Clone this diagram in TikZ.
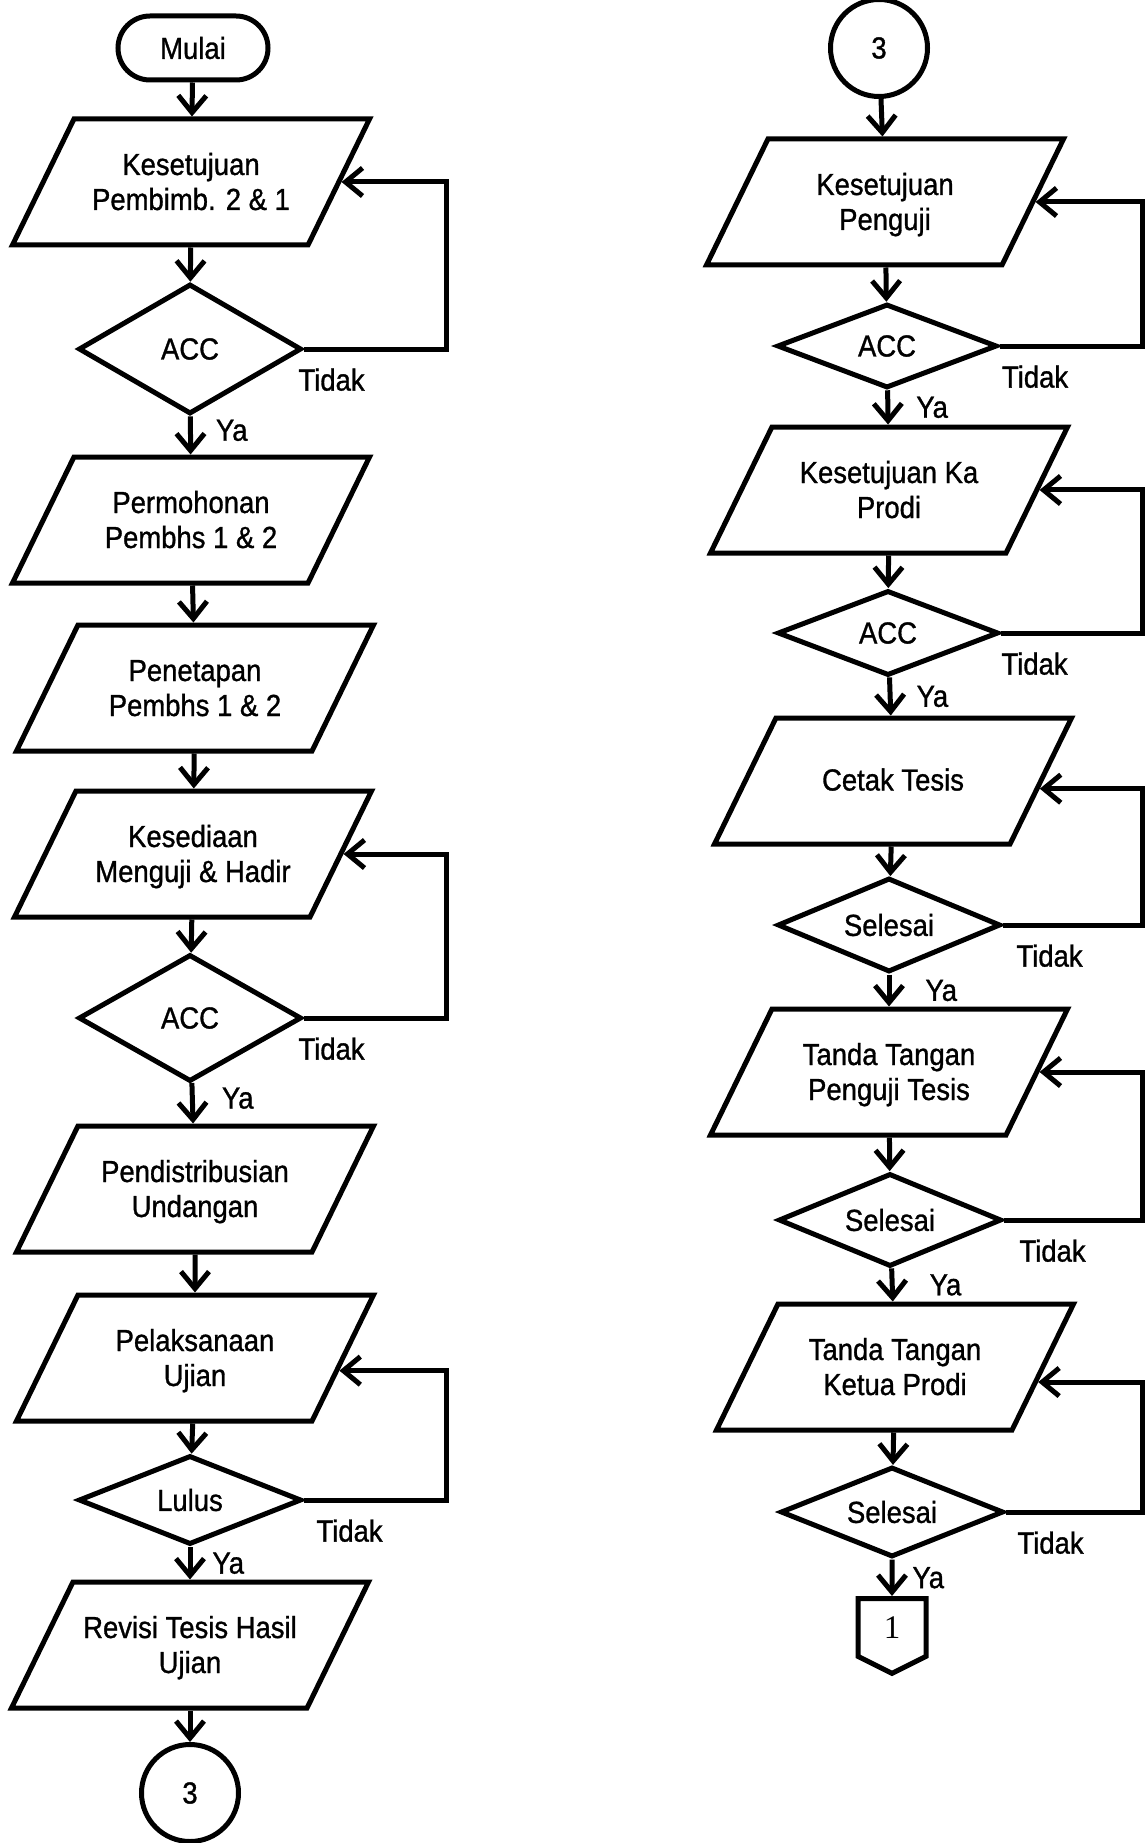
\documentclass[tikz,border=0pt]{standalone}
\usepackage{fontspec}
\setmainfont{Liberation Sans}[FakeStretch=0.9, FakeBold=1]
\newfontfamily\onefont{Liberation Serif}
\usetikzlibrary{shapes.geometric, shapes.misc, shapes.symbols, arrows.meta}
\tikzset{
    >={Straight Barb[length=17pt,width=28pt]}, % open arrow heads
    every node/.style={font=\fontsize{30.5}{35}\selectfont}, % text size of all nodes
    terminal/.style={draw, rounded rectangle, minimum width=150pt, minimum height=64pt, inner sep=0pt},
    io/.style={draw, trapezium, trapezium left angle=64, trapezium right angle=116,
        trapezium stretches body, minimum width=357pt, minimum height=126pt,
        text height=60pt, text depth=4pt, inner ysep=31pt, inner xsep=0pt,
        align=center}, % the slanted boxes
    decision/.style={draw, diamond, aspect=2.5, inner sep=0pt, minimum width=223pt, minimum height=#1},
    decision/.default=93pt,
    connector/.style={draw, circle, minimum size=97pt, inner sep=0pt},
    offpage/.style={draw, signal, signal to=south, signal pointer angle=127,
        minimum width=68pt, minimum height=62pt, inner sep=0pt,
        font=\onefont\fontsize{33}{36}\selectfont},
    tidak/.style={pos=0, anchor=north west, inner sep=0pt, xshift=#1, yshift=-17pt}, % label of the loop back
    tidak/.default=-8pt,
    ya/.style={anchor=west, inner sep=0pt, xshift=#1}, % label of the way on
    ya/.default=24pt,
}

\begin{document}
\begin{tikzpicture}[x=1pt, y=-1pt, line width=5pt]
    \useasboundingbox (0,0) rectangle (1146,1843);
    \coordinate (lloop) at (446,0);
    \coordinate (rloop) at (1142,0);

    % left column
    \node[terminal] (mulai) at (193,48) {Mulai};
    \node[io] (kpb) at (191,182) {Kesetujuan\\Pembimb. 2 \& 1};
    \node[decision=130pt] (acc1) at (190,349) {ACC};
    \node[io] (perm) at (191,520) {Permohonan\\Pembhs 1 \& 2};
    \node[io] (pen) at (195,688) {Penetapan\\Pembhs 1 \& 2};
    \node[io] (kes) at (193,854) {Kesediaan\\Menguji \& Hadir};
    \node[decision=127pt] (acc2) at (190,1018) {ACC};
    \node[io] (dist) at (195,1189) {Pendistribusian\\Undangan};
    \node[io] (laks) at (195,1358) {Pelaksanaan\\Ujian};
    \node[decision=89pt] (lulus) at (190,1500) {Lulus};
    \node[io] (rev) at (190,1645) {Revisi Tesis Hasil\\Ujian};
    \node[connector] (c3a) at (190,1793) {3};

    \draw[->] (mulai) -- (kpb);
    \draw[->] (kpb) -- (acc1);
    \draw[->] (acc1) -- node[ya=23pt, yshift=5pt] {Ya} (perm);
    \draw[->] (acc1.east) -- node[tidak] {Tidak} (acc1.east -| lloop) |- (kpb.east);
    \draw[->] (perm) -- (pen);
    \draw[->] (pen) -- (kes);
    \draw[->] (kes) -- (acc2);
    \draw[->] (acc2) -- node[ya=27pt, yshift=5pt] {Ya} (dist);
    \draw[->] (acc2.east) -- node[tidak] {Tidak} (acc2.east -| lloop) |- (kes.east);
    \draw[->] (dist) -- (laks);
    \draw[->] (laks) -- (lulus);
    \draw[->] (lulus) -- node[ya=20pt] {Ya} (rev);
    \draw[->] (lulus.east) -- node[tidak=10pt] {Tidak} (lulus.east -| lloop) |- (laks.-5);
    \draw[->] (rev) -- (c3a);

    % right column
    \node[connector] (c3b) at (879,48) {3};
    \node[io] (kpg) at (885,202) {Kesetujuan\\Penguji};
    \node[decision=84pt, minimum width=220pt] (acc3) at (887,346) {ACC};
    \node[io] (kkp) at (889,490) {Kesetujuan Ka\\Prodi};
    \node[decision=85pt, minimum width=221pt] (acc4) at (888,633) {ACC};
    \node[io, text height=23pt, text depth=4pt, inner ysep=49.5pt] (cetak) at (893,781) {Cetak Tesis};
    \node[decision=94pt] (sel1) at (889,925) {Selesai};
    \node[io] (ttp) at (889,1072) {Tanda Tangan\\Penguji Tesis};
    \node[decision=93pt] (sel2) at (890,1220) {Selesai};
    \node[io] (ttk) at (895,1367) {Tanda Tangan\\Ketua Prodi};
    \node[decision=90pt] (sel3) at (892,1512) {Selesai};
    \node[offpage, anchor=north] (conn) at (892,1596) {1};

    \draw[->] (c3b) -- (kpg);
    \draw[->] (kpg) -- (acc3);
    \draw[->] (acc3) -- node[ya=26pt] {Ya} (kkp);
    \draw[->] (acc3.east) -- node[tidak=0pt] {Tidak} (acc3.east -| rloop) |- (kpg.east);
    \draw[->] (kkp) -- (acc4);
    \draw[->] (acc4) -- node[ya] {Ya} (cetak);
    \draw[->] (acc4.east) -- node[tidak=-2pt] {Tidak} (acc4.east -| rloop) |- (kkp.east);
    \draw[->] (cetak) -- (sel1);
    \draw[->] (sel1) -- node[ya=34pt] {Ya} (ttp);
    \draw[->] (sel1.east) -- node[tidak=11pt] {Tidak} (sel1.east -| rloop) |- (cetak.-3);
    \draw[->] (ttp) -- (sel2);
    \draw[->] (sel2) -- node[ya=35pt] {Ya} (ttk);
    \draw[->] (sel2.east) -- node[tidak=13pt] {Tidak} (sel2.east -| rloop) |- (ttp.east);
    \draw[->] (ttk) -- (sel3);
    \draw[->] (sel3) -- node[ya=18pt] {Ya} (conn);
    \draw[->] (sel3.east) -- node[tidak=9pt] {Tidak} (sel3.east -| rloop) |- (ttk.-6);
\end{tikzpicture}
\end{document}
